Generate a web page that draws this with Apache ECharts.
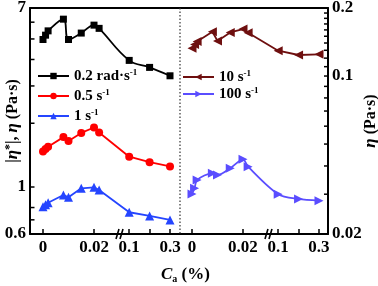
<!DOCTYPE html>
<html><head><meta charset="utf-8">
<script src="https://cdn.jsdelivr.net/npm/echarts@6/dist/echarts.min.js"></script>
<style>html,body{margin:0;padding:0;background:#fff}#c{width:378px;height:286px}</style>
</head><body><div id="c"></div>
<script>
// ---- data ----
const ca = [0, 0.001, 0.002, 0.008, 0.01, 0.015, 0.02, 0.022, 0.1, 0.2, 0.3];
const eta02 = [4.97, 5.21, 5.46, 6.20, 4.97, 5.33, 5.81, 5.61, 3.96, 3.67, 3.35];
const eta05 = [1.47, 1.51, 1.55, 1.72, 1.65, 1.80, 1.91, 1.81, 1.39, 1.31, 1.25];
const eta1 = [0.807, 0.825, 0.843, 0.917, 0.894, 0.986, 0.997, 0.968, 0.760, 0.730, 0.699];
const eta10 = [0.1326, 0.138, 0.142, 0.157, 0.143, 0.156, 0.1614, 0.1555, 0.1294, 0.1239, 0.1247];
const eta100 = [0.0301, 0.0319, 0.0347, 0.0371, 0.0365, 0.0391, 0.0428, 0.0397, 0.0300, 0.0286, 0.0281];
const xTicks = [0, 0.02, 0.1, 0.2, 0.3];
const xTickLabels = ['0', '0.02', '0.1', '', '0.3'];
const leftTicks = [0.7, 0.8, 1, 2, 3, 4, 5, 6];
const leftLabels = [0.6, 1, 7];
const rightTicks = [0.03, 0.04, 0.05, 0.06, 0.07, 0.08, 0.09, 0.1, 0.11, 0.12, 0.13, 0.14, 0.15, 0.16, 0.17, 0.18, 0.19];
const rightLabels = [0.02, 0.1, 0.2];
const seriesNamesL = ['0.2 rad·s', '0.5 s', '1 s'];
const seriesNamesR = ['10 s', '100 s'];

// ---- broken x scale (0–0.02 | 0.1–0.3) ----
function brk(c) { return c <= 0.05 ? c / 0.02 : 1.69 + (c - 0.1) * 4; }
const BREAK_U = 1.48;
const xTickVals = xTicks.map(brk);
function xLabel(u) {
  const i = xTickVals.findIndex(v => Math.abs(v - u) < 1e-6);
  return i >= 0 ? xTickLabels[i] : '';
}
function pts(vals) { return ca.map((c, i) => [brk(c), vals[i]]); }

const FONT = 'Liberation Serif';
const chart = echarts.init(document.getElementById('c'));
const AXC = { color: '#000', width: 2 };
const lblStyle = { color: '#000', fontFamily: FONT, fontWeight: 'bold', fontSize: 17 };
const XMIN = [-0.255, -0.2354], XMAX = [2.686, 2.667];
const YMIN = [0.6, 0.02], YMAX = [7, 0.2];

function xAxisB(gi) {
  return {
    type: 'value', gridIndex: gi, min: XMIN[gi], max: XMAX[gi], position: 'bottom',
    axisLine: { show: true, onZero: false, lineStyle: AXC },
    axisTick: { show: true, inside: true, length: 5, lineStyle: { color: '#000', width: 1.5 }, customValues: xTickVals },
    axisLabel: Object.assign({ show: true, customValues: xTickVals, formatter: xLabel, margin: 5 }, lblStyle),
    splitLine: { show: false }
  };
}
function xAxisT(gi) {
  return {
    type: 'value', gridIndex: gi, min: XMIN[gi], max: XMAX[gi], position: 'top',
    axisLine: { show: true, onZero: false, lineStyle: AXC },
    axisTick: { show: false }, axisLabel: { show: false }, splitLine: { show: false }
  };
}
const fmtNum = v => String(+(+v).toPrecision(3));
const nameRich = {
  b: { fontFamily: FONT, fontWeight: 'bold', fontSize: 16, color: '#000' },
  i: { fontFamily: FONT, fontWeight: 'bold', fontStyle: 'italic', fontSize: 17, color: '#000' },
  sp: { fontFamily: FONT, fontWeight: 'bold', fontSize: 12, color: '#000', verticalAlign: 'top', padding: [0, 0, 6, 0] }
};
const legRich = {
  t: { fontFamily: FONT, fontWeight: 'bold', fontSize: 15, color: '#000', lineHeight: 16 },
  s: { fontFamily: FONT, fontWeight: 'bold', fontSize: 9, color: '#000', verticalAlign: 'top', lineHeight: 16, padding: [0, 0, 7, 0] }
};
const legFmt = n => '{t|' + n + '}{s|-1}';

const option = {
  animation: false,
  backgroundColor: '#fff',
  title: {
    text: '{i|C}{s|a}{n| (%)}', left: 156, top: 261,
    textStyle: { rich: {
      i: { fontFamily: FONT, fontWeight: 'bold', fontStyle: 'italic', fontSize: 17, color: '#000' },
      s: { fontFamily: FONT, fontWeight: 'bold', fontSize: 10, color: '#000', verticalAlign: 'bottom', padding: [8, 0, 0, 0] },
      n: { fontFamily: FONT, fontWeight: 'bold', fontSize: 17, color: '#000' }
    } }
  },
  grid: [
    { left: 30, top: 8, width: 150, height: 226, outerBoundsMode: 'none', containLabel: false },
    { left: 180, top: 8, width: 148, height: 226, outerBoundsMode: 'none', containLabel: false }
  ],
  xAxis: [xAxisB(0), xAxisB(1), xAxisT(0), xAxisT(1)],
  yAxis: [
    {
      type: 'log', logBase: 10, gridIndex: 0, min: YMIN[0], max: YMAX[0], position: 'left',
      name: '{b||}{i|η}{sp|*}{b||, }{i|η}{b| (Pa·s)}', nameLocation: 'middle', nameRotate: 90, nameGap: 8,
      nameMoveOverlap: false,
      nameTextStyle: { rich: nameRich },
      axisLine: { show: true, onZero: false, lineStyle: AXC },
      axisTick: { show: false },
      axisLabel: Object.assign({ customValues: leftLabels, formatter: fmtNum, margin: 4 }, lblStyle),
      splitLine: { show: false }, minorTick: { show: false }
    },
    {
      type: 'log', logBase: 10, gridIndex: 1, min: YMIN[1], max: YMAX[1], position: 'right',
      name: '{i|η}{b| (Pa·s)}', nameLocation: 'middle', nameRotate: 90, nameGap: 34,
      nameMoveOverlap: false,
      nameTextStyle: { rich: nameRich },
      axisLine: { show: true, onZero: false, lineStyle: AXC },
      axisTick: { show: false },
      axisLabel: Object.assign({ customValues: rightLabels, formatter: fmtNum, margin: 4 }, lblStyle),
      splitLine: { show: false }, minorTick: { show: false }
    }
  ],
  legend: [
    {
      data: seriesNamesL, orient: 'vertical', left: 37, top: 68, itemWidth: 31, itemHeight: 8, itemGap: 4,
      formatter: legFmt, textStyle: { rich: legRich }, padding: 0, z: 6
    },
    {
      data: seriesNamesR, orient: 'vertical', left: 182, top: 69, itemWidth: 31, itemHeight: 8, itemGap: 1,
      formatter: legFmt, textStyle: { rich: legRich }, padding: 0, z: 6
    }
  ],
  series: [
    { name: seriesNamesL[0], type: 'line', xAxisIndex: 0, yAxisIndex: 0, data: pts(eta02), smooth: 0.4,
      symbol: 'rect', symbolSize: 7, itemStyle: { color: '#000' }, lineStyle: { color: '#000', width: 1.8 } },
    { name: seriesNamesL[1], type: 'line', xAxisIndex: 0, yAxisIndex: 0, data: pts(eta05),
      symbol: 'circle', symbolSize: 8, itemStyle: { color: '#ff0000' }, lineStyle: { color: '#ff0000', width: 1.8 } },
    { name: seriesNamesL[2], type: 'line', xAxisIndex: 0, yAxisIndex: 0, data: pts(eta1),
      symbol: 'triangle', symbolSize: 9, itemStyle: { color: '#2545ff' }, lineStyle: { color: '#2545ff', width: 1.8 } },
    { name: seriesNamesR[0], type: 'line', xAxisIndex: 1, yAxisIndex: 1, data: pts(eta10),
      symbol: 'triangle', symbolRotate: 90, symbolSize: 9, itemStyle: { color: '#6e0f0f' }, lineStyle: { color: '#6e0f0f', width: 1.8 } },
    { name: seriesNamesR[1], type: 'line', xAxisIndex: 1, yAxisIndex: 1, data: pts(eta100), smooth: 0.3,
      symbol: 'triangle', symbolRotate: -90, symbolSize: 9, itemStyle: { color: '#5a4dff' }, lineStyle: { color: '#5a4dff', width: 1.8 } }
  ]
};
chart.setOption(option);

// decorations: log-axis ticks, dotted panel divider, gaps and "//" marks at the axis break
const g = [];
const pL0 = chart.convertToPixel({ gridIndex: 0 }, [XMIN[0], YMIN[0]]);
const pL1 = chart.convertToPixel({ gridIndex: 0 }, [XMAX[0], YMAX[0]]);
const pR0 = chart.convertToPixel({ gridIndex: 1 }, [XMIN[1], YMIN[1]]);
const pR1 = chart.convertToPixel({ gridIndex: 1 }, [XMAX[1], YMAX[1]]);
const leftX = pL0[0], divX = pR0[0], rightX = pR1[0];
const topY = pL1[1], botY = pL0[1];
const tickStyle = { stroke: '#000', lineWidth: 1.5 };
leftTicks.forEach(v => {
  const y = chart.convertToPixel({ gridIndex: 0 }, [XMIN[0], v])[1];
  g.push({ type: 'line', z: 5, shape: { x1: leftX, y1: y, x2: leftX + 4.5, y2: y }, style: tickStyle });
});
rightTicks.forEach(v => {
  const y = chart.convertToPixel({ gridIndex: 1 }, [XMAX[1], v])[1];
  g.push({ type: 'line', z: 5, shape: { x1: rightX - 4, y1: y, x2: rightX, y2: y }, style: tickStyle });
});
g.push({ type: 'line', z: 5, shape: { x1: divX, y1: topY, x2: divX, y2: botY }, style: { stroke: '#333', lineWidth: 1.2, lineDash: [1.5, 2] } });
[0, 1].forEach(gi => {
  const bx = chart.convertToPixel({ gridIndex: gi }, [BREAK_U, YMIN[gi]])[0];
  g.push({ type: 'rect', z: 3, shape: { x: bx - 1.5, y: topY + 2, width: 3, height: botY - topY - 4 }, style: { fill: '#fff' } });
  [0, 4].forEach(dx => {
    g.push({ type: 'line', z: 5, shape: { x1: bx - 2.5 + dx, y1: botY + 5, x2: bx + 0.5 + dx, y2: botY - 5 }, style: { stroke: '#000', lineWidth: 1.6 } });
  });
});
chart.setOption({ graphic: g });
</script></body></html>
